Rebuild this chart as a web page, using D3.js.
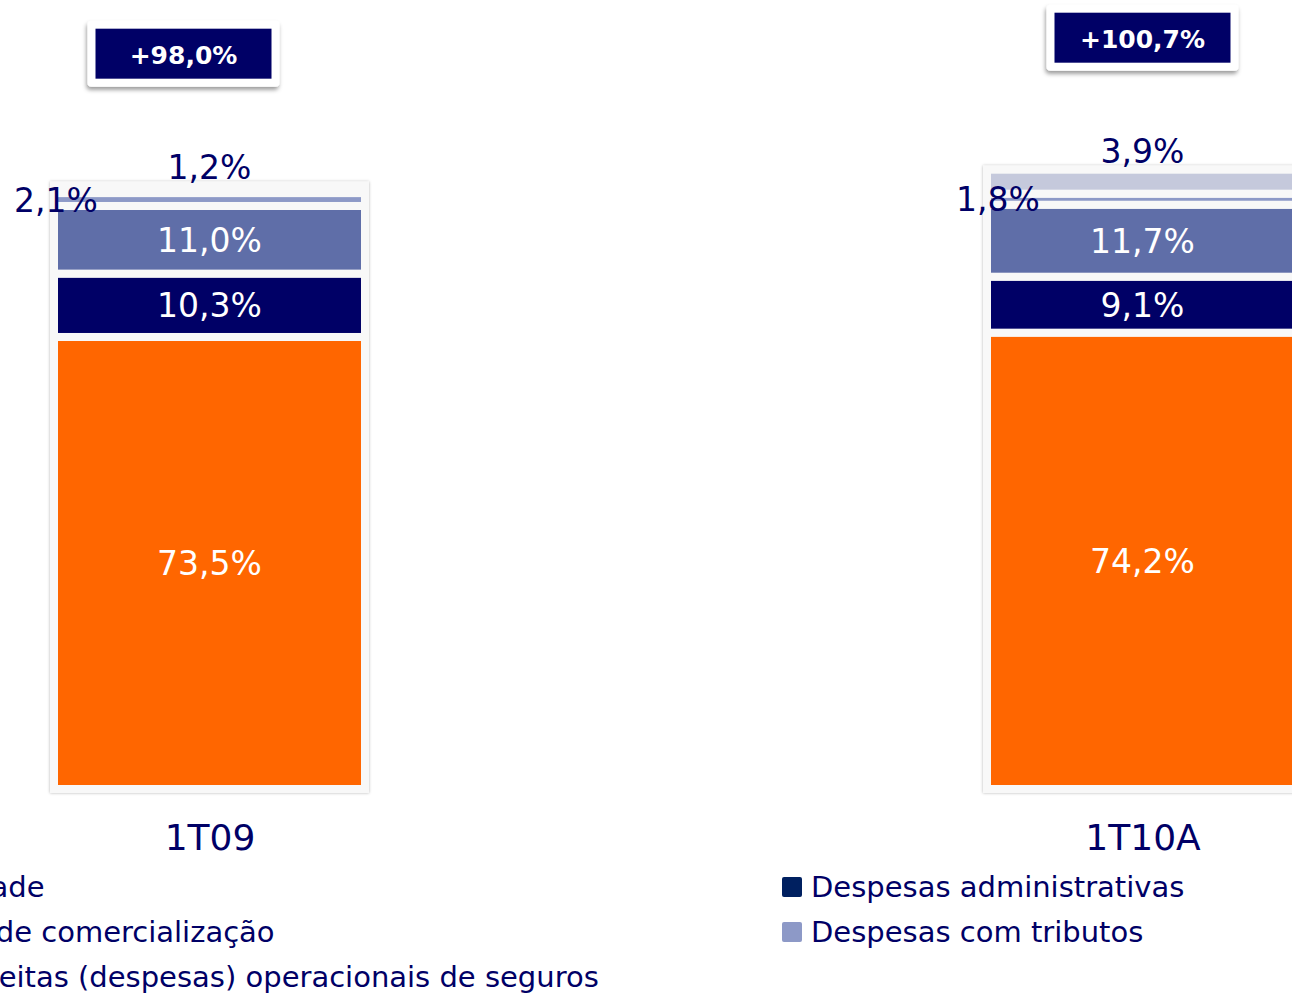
<!DOCTYPE html>
<html>
<head>
<meta charset="utf-8">
<script src="https://cdn.jsdelivr.net/npm/d3@7"></script>
<style>
  html, body { margin: 0; padding: 0; background: #fff; overflow: hidden; }
  svg { display: block; font-family: "DejaVu Sans", Verdana, sans-serif; }
</style>
</head>
<body>
<script>
let width = 1292,
  height = 993,
  barWidth = 311,
  baseline = 789,
  pxPerPct = 6.15,
  navyText = '#000066'

// data
let categories = ['1T09', '1T10A']
let seriesNames = [
  'Sinistralidade',
  'Despesas administrativas',
  'Despesas de comercialização',
  'Despesas com tributos',
  'Outras receitas (despesas) operacionais de seguros'
]
let sinistralidade = [73.5, 74.2]
let despAdministrativas = [10.3, 9.1]
let despComercializacao = [11.0, 11.7]
let despTributos = [2.1, 1.8]
let outrasReceitas = [1.2, 3.9]
let variacao = ['+98,0%', '+100,7%']

let seriesValues = [sinistralidade, despAdministrativas, despComercializacao, despTributos, outrasReceitas]
let colors = ['#ff6600', '#000066', '#5f6ea8', '#8d99c7', '#c5c9dc']

let fmt = v => d3.format('.1f')(v).replace('.', ',') + '%'

let table = categories.map((c, i) => {
  let row = { cat: c }
  seriesNames.forEach((s, j) => { row[s] = seriesValues[j][i] })
  return row
})
let stacked = d3.stack().keys(seriesNames)(table)

let svg = d3.select('body').append('svg')
  .attr('width', width)
  .attr('height', height)

let defs = svg.append('defs')
defs.append('filter').attr('id', 'panelShadow')
  .attr('x', '-10%').attr('y', '-10%').attr('width', '120%').attr('height', '120%')
  .append('feDropShadow')
  .attr('dx', 0).attr('dy', 0).attr('stdDeviation', 1.6)
  .attr('flood-color', '#000').attr('flood-opacity', 0.3)
defs.append('filter').attr('id', 'badgeShadow')
  .attr('x', '-20%').attr('y', '-30%').attr('width', '140%').attr('height', '170%')
  .append('feDropShadow')
  .attr('dx', -1).attr('dy', 3).attr('stdDeviation', 2.2)
  .attr('flood-color', '#000').attr('flood-opacity', 0.4)

let x = d3.scalePoint()
  .domain(categories)
  .range([209.5, 1142.5])

let y = d3.scaleLinear()
  .domain([0, 100])
  .range([baseline, baseline - 100 * pxPerPct])

let totals = categories.map((c, i) => d3.sum(seriesValues, s => s[i]))

// panels behind the stacks
svg.selectAll('rect.panel')
  .data(categories)
  .enter()
  .append('rect')
  .attr('class', 'panel')
  .attr('x', d => x(d) - barWidth / 2 - 4)
  .attr('y', (d, i) => y(totals[i]) - 4)
  .attr('width', barWidth + 8)
  .attr('height', (d, i) => y(0) - y(totals[i]) + 8)
  .attr('fill', '#f8f8f8')
  .attr('filter', 'url(#panelShadow)')

// segments
let layers = svg.selectAll('g.layer')
  .data(stacked)
  .enter()
  .append('g')
  .attr('class', 'layer')
  .attr('fill', (d, i) => colors[i])

layers.selectAll('rect')
  .data(d => d)
  .enter()
  .append('rect')
  .attr('x', d => x(d.data.cat) - barWidth / 2)
  .attr('y', d => y(d[1]))
  .attr('width', barWidth)
  .attr('height', d => y(d[0]) - y(d[1]))
  .attr('stroke', '#f8f8f8')
  .attr('stroke-width', 8)

// labels inside the big segments
layers.filter((d, i) => i < 3)
  .selectAll('text')
  .data(d => d)
  .enter()
  .append('text')
  .attr('x', d => x(d.data.cat))
  .attr('y', d => (y(d[0]) + y(d[1])) / 2 + 12)
  .attr('text-anchor', 'middle')
  .attr('font-size', 33)
  .attr('fill', '#fff')
  .text(d => fmt(d[1] - d[0]))

// Despesas com tributos: label on the left edge of the bar
let tribShift = [2, 11]
svg.selectAll('text.trib')
  .data(stacked[3])
  .enter()
  .append('text')
  .attr('class', 'trib')
  .attr('x', (d, i) => x(d.data.cat) - barWidth / 2 + tribShift[i])
  .attr('y', d => (y(d[0]) + y(d[1])) / 2 + 12)
  .attr('text-anchor', 'middle')
  .attr('font-size', 33)
  .attr('fill', navyText)
  .text(d => fmt(d[1] - d[0]))

// Outras receitas: label above the bar
svg.selectAll('text.outras')
  .data(stacked[4])
  .enter()
  .append('text')
  .attr('class', 'outras')
  .attr('x', d => x(d.data.cat))
  .attr('y', d => y(d[1]) - 7)
  .attr('text-anchor', 'middle')
  .attr('font-size', 33)
  .attr('fill', navyText)
  .text(d => fmt(d[1] - d[0]))

// category axis
let axisX = d3.axisBottom(x).tickSize(0).tickPadding(0)
let gx = svg.append('g')
  .attr('transform', 'translate(0,' + 824 + ')')
  .call(axisX)
gx.select('.domain').remove()
gx.selectAll('text')
  .attr('font-family', '"DejaVu Sans", Verdana, sans-serif')
  .attr('font-size', 36)
  .attr('fill', navyText)

// variation badges
let badgeShift = [-26, 0]
let badges = svg.selectAll('g.badge')
  .data(categories)
  .enter()
  .append('g')
  .attr('class', 'badge')
  .attr('transform', (d, i) => 'translate(' + (x(d) + badgeShift[i]) + ',' + (y(totals[i]) - 132) + ')')

badges.append('rect')
  .attr('x', -96).attr('y', -33)
  .attr('width', 192).attr('height', 66)
  .attr('rx', 4)
  .attr('fill', '#fff')
  .attr('filter', 'url(#badgeShadow)')
badges.append('rect')
  .attr('x', -88).attr('y', -25)
  .attr('width', 176).attr('height', 50)
  .attr('fill', '#000066')
badges.append('text')
  .attr('text-anchor', 'middle')
  .attr('y', 10)
  .attr('font-size', 25)
  .attr('font-weight', 'bold')
  .attr('fill', '#fff')
  .text((d, i) => variacao[i])

// legend: two columns, filled row by row
let legendCols = [-182, 782],
  legendRow0 = 887,
  legendRowStep = 45

let legend = svg.selectAll('g.legend')
  .data(seriesNames)
  .enter()
  .append('g')
  .attr('class', 'legend')
  .attr('transform', (d, i) => 'translate(' + legendCols[i % 2] + ',' + (legendRow0 + Math.floor(i / 2) * legendRowStep) + ')')

legend.append('rect')
  .attr('x', 0).attr('y', -10)
  .attr('width', 20).attr('height', 20)
  .attr('rx', 2)
  .attr('fill', (d, i) => i === 1 ? '#002060' : colors[i])
legend.append('text')
  .attr('x', 29)
  .attr('y', 10)
  .attr('font-size', 29)
  .attr('fill', navyText)
  .text(d => d)
</script>
</body>
</html>
